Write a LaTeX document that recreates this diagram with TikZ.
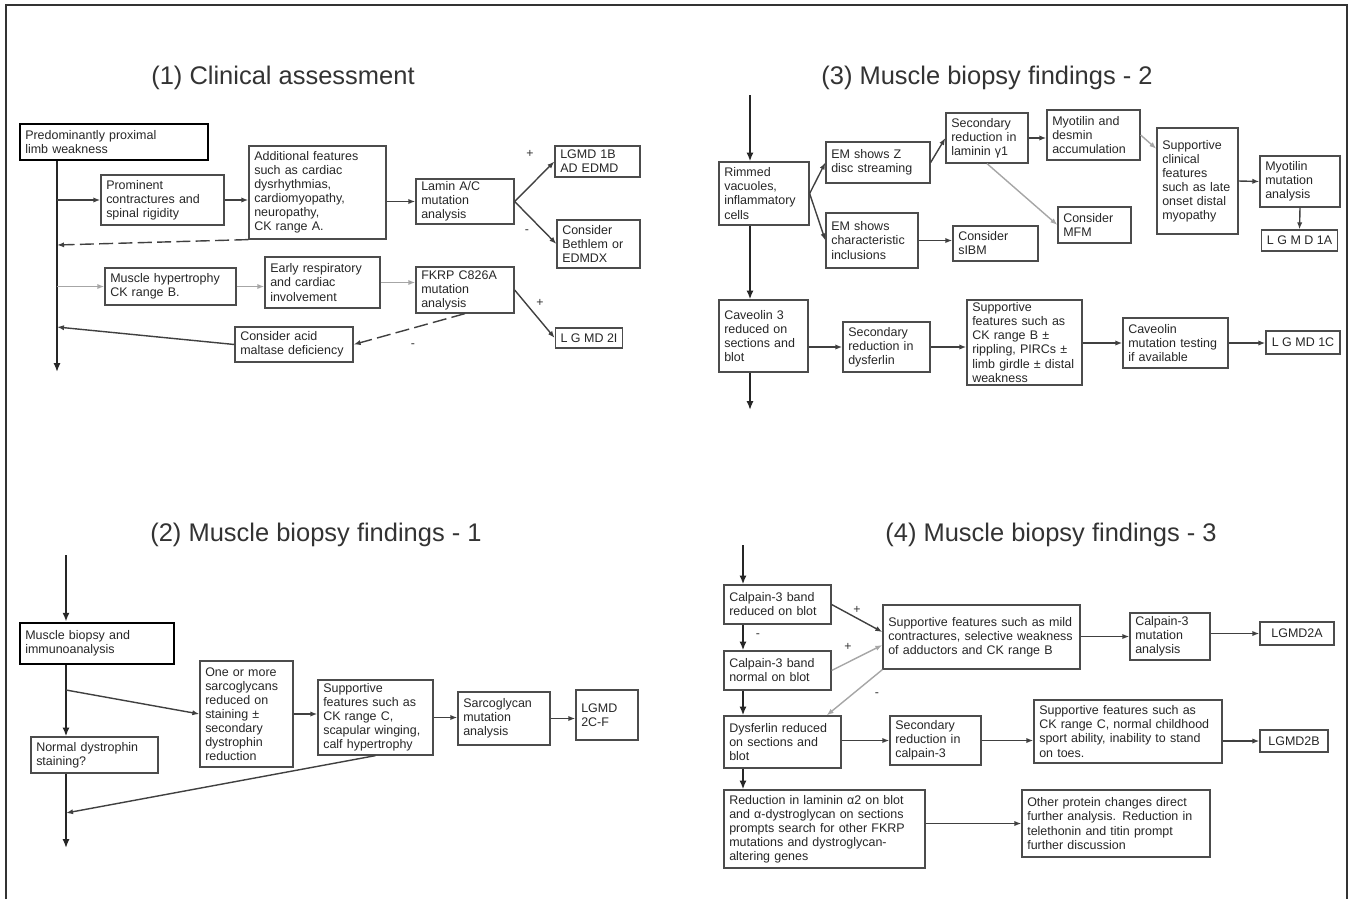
\documentclass[tikz,border=0pt]{standalone}
\usepackage{fontspec}
\setmainfont{Liberation Sans}
\usetikzlibrary{arrows.meta, calc}

\begin{document}
\begin{tikzpicture}[x=0.02cm, y=-0.02cm,
        box/.style={draw=black!70, line width=0.7pt, rectangle, align=left, inner xsep=3pt, inner ysep=1pt, text=black!85, font=\fontsize{7.1}{8}\selectfont},
        thickbox/.style={box, line width=1.6pt, draw=black},
        ttl/.style={text=black!80, font=\fontsize{14.5}{17}\selectfont},
        sgn/.style={text=black!80, font=\fontsize{7}{8}\selectfont, inner sep=0pt},
        trunk/.style={-{Latex[length=5pt,width=4pt]}, line width=1.6pt, draw=black!85},
        link/.style={-{Latex[length=4pt,width=3pt]}, line width=0.8pt, draw=black!75},
        glink/.style={link, draw=black!35},
        dlink/.style={link, dash pattern=on 8pt off 3pt}
    ]
    \useasboundingbox (0,0) rectangle (1351,899);
    \draw[black!80, line width=0.8pt] (6,899) -- (6,5) -- (1347,5) -- (1347,899);

    % (1) clinical assessment
    \node[ttl] (ttl1) at (283,78) {(1) Clinical assessment};
    \node[thickbox, text width=3.55cm, minimum height=0.72cm] (weak) at (114,142) {Predominantly proximal\\limb weakness};
    \node[box, text width=2.25cm, minimum height=1.0cm] (cont) at (162.5,200) {Prominent\\contractures and\\spinal rigidity};
    \node[box, text width=2.53cm, minimum height=1.86cm] (addf) at (317.5,192.5) {Additional features\\such as cardiac\\dysrhythmias,\\cardiomyopathy,\\neuropathy,\\CK range A.};
    \node[box, text width=1.75cm, minimum height=0.9cm] (lamin) at (465,201.5) {Lamin A/C\\mutation\\analysis};
    \node[box, text width=1.49cm, minimum height=0.62cm] (lgmdb) at (597.5,161.5) {LGMD 1B\\AD EDMD};
    \node[box, text width=1.45cm, minimum height=0.96cm] (beth) at (598.5,244) {Consider\\Bethlem or\\EDMDX};
    \node[box, text width=2.41cm, minimum height=0.74cm] (hyp) at (170.5,286.5) {Muscle hypertrophy\\CK range B.};
    \node[box, text width=2.09cm, minimum height=1.02cm] (resp) at (322.5,282.5) {Early respiratory\\and cardiac\\involvement};
    \node[box, text width=1.75cm, minimum height=0.92cm] (fkrp) at (465,290) {FKRP C826A\\mutation\\analysis};
    \node[box, minimum width=1.32cm, minimum height=0.4cm] (lgmdi) at (589,338) {L G MD 2I};
    \node[box, text width=2.15cm, minimum height=0.7cm] (acid) at (294,344.5) {Consider acid\\maltase deficiency};
    \coordinate (t1end) at (57,372);
    \coordinate (j1) at (57,245);
    \coordinate (j2) at (57,327);
    \node[sgn] (s1) at (530,154) {+};
    \node[sgn] (s2) at (527,232) {-};
    \node[sgn] (s3) at (540,303) {+};
    \node[sgn] (s4) at (413,346) {-};

    \draw[trunk] (weak.south -| t1end) -- (t1end);
    \draw[link] (t1end |- cont.west) -- (cont.west);
    \draw[link] (cont.east) -- (cont.east -| addf.west);
    \draw[link] (addf.east |- lamin.west) -- (lamin.west);
    \draw[link] (lamin.east) -- (lgmdb.west);
    \draw[link] (lamin.east) -- (beth.west);
    \draw[dlink] (addf.south west) -- (j1);
    \draw[glink] (t1end |- hyp.west) -- (hyp.west);
    \draw[glink] (hyp.east) -- (hyp.east -| resp.west);
    \draw[glink] (resp.east) -- (resp.east -| fkrp.west);
    \draw[link] (fkrp.east) -- (lgmdi.west);
    \draw[dlink] (fkrp.south) -- (acid.east);
    \draw[link] (acid.west) -- (j2);

    % (3) muscle biopsy findings - 2
    \node[ttl] (ttl3) at (987,78) {(3) Muscle biopsy findings - 2};
    \node[box, text width=1.59cm, minimum height=1.26cm] (rim) at (764,193.5) {Rimmed\\vacuoles,\\inflammatory\\cells};
    \node[box, text width=1.87cm, minimum height=0.82cm] (zdisc) at (878,162.5) {EM shows Z\\disc streaming};
    \node[box, text width=1.63cm, minimum height=1.1cm] (incl) at (872,240.5) {EM shows\\characteristic\\inclusions};
    \node[box, text width=1.49cm, minimum height=0.7cm] (sibm) at (995.5,243.5) {Consider\\sIBM};
    \node[box, text width=1.43cm, minimum height=1.0cm] (lamg) at (987,138) {Secondary\\reduction in\\laminin γ1};
    \node[box, text width=1.65cm, minimum height=1.0cm] (myod) at (1093.5,135) {Myotilin and\\desmin\\accumulation};
    \node[box, text width=1.25cm, minimum height=0.72cm] (mfm) at (1094.5,225) {Consider\\MFM};
    \node[box, text width=1.41cm, minimum height=2.12cm] (late) at (1197.5,181) {Supportive\\clinical\\features\\such as late\\onset distal\\myopathy};
    \node[box, text width=1.39cm, minimum height=1.02cm] (myot) at (1300,181.5) {Myotilin\\mutation\\analysis};
    \node[box, minimum width=1.46cm, minimum height=0.42cm] (l1a) at (1299.5,240.5) {L G M D 1A};
    \node[box, text width=1.57cm, minimum height=1.44cm] (cav) at (763.5,336) {Caveolin 3\\reduced on\\sections and\\blot};
    \node[box, text width=1.53cm, minimum height=1.0cm] (dysf) at (886.5,347) {Secondary\\reduction in\\dysferlin};
    \node[box, text width=2.09cm, minimum height=1.7cm] (ripp) at (1024.5,342.5) {Supportive\\features such as\\CK range B ±\\rippling, PIRCs ±\\limb girdle ± distal\\weakness};
    \node[box, text width=1.89cm, minimum height=1.0cm] (cavm) at (1175.5,343) {Caveolin\\mutation testing\\if available};
    \node[box, minimum width=1.48cm, minimum height=0.46cm] (l1c) at (1303,342.5) {L G MD 1C};
    \coordinate (t3a) at (750,95);
    \coordinate (t3b) at (750,410);

    \draw[trunk] (t3a) -- (t3a |- rim.north);
    \draw[trunk] (t3a |- rim.south) -- (t3a |- cav.north);
    \draw[trunk] (t3a |- cav.south) -- (t3b);
    \draw[link] (rim.east) -- (zdisc.west);
    \draw[link] (rim.east) -- (incl.west);
    \draw[link] (zdisc.east) -- (lamg.west);
    \draw[link] (lamg.east) -- (lamg.east -| myod.west);
    \draw[glink] (lamg.south) -- (mfm.west);
    \draw[glink] (myod.east) -- ($(late.north west)!0.2!(late.south west)$);
    \draw[link] (incl.east) -- (incl.east -| sibm.west);
    \draw[link] (late.east) -- (myot.west);
    \draw[link] (myot.south) -- (l1a.north);
    \draw[link] (cav.east |- dysf.west) -- (dysf.west);
    \draw[link] (dysf.east) -- (dysf.east -| ripp.west);
    \draw[link] (ripp.east |- cavm.west) -- (cavm.west);
    \draw[link] (cavm.east) -- (cavm.east -| l1c.west);

    % (2) muscle biopsy findings - 1
    \node[ttl] (ttl2) at (316,535) {(2) Muscle biopsy findings - 1};
    \node[thickbox, text width=2.87cm, minimum height=0.82cm] (mb) at (97,643.5) {Muscle biopsy and\\immunoanalysis};
    \node[box, text width=2.33cm, minimum height=0.72cm] (nd) at (94.5,755) {Normal dystrophin\\staining?};
    \node[box, text width=1.65cm, minimum height=2.12cm] (sg) at (246.5,714) {One or more\\sarcoglycans\\reduced on\\staining ±\\secondary\\dystrophin\\reduction};
    \node[box, text width=2.09cm, minimum height=1.5cm] (sf) at (375.5,717.5) {Supportive\\features such as\\CK range C,\\scapular winging,\\calf hypertrophy};
    \node[box, text width=1.63cm, minimum height=1.06cm] (sm) at (504,718.5) {Sarcoglycan\\mutation\\analysis};
    \node[box, text width=1.03cm, minimum height=1.0cm] (l2c) at (607,715) {LGMD\\2C-F};
    \coordinate (t2a) at (66,555);
    \coordinate (t2b) at (66,848);
    \coordinate (j3) at (66,690);
    \coordinate (j4) at (66,813);

    \draw[trunk] (t2a) -- (t2a |- mb.north);
    \draw[trunk] (t2a |- mb.south) -- (t2a |- nd.north);
    \draw[trunk] (t2a |- nd.south) -- (t2b);
    \draw[link] (j3) -- (sg.west);
    \draw[link] (sg.east) -- (sg.east -| sf.west);
    \draw[link] (sf.east) -- (sf.east -| sm.west);
    \draw[link] (sm.east) -- (sm.east -| l2c.west);
    \draw[link] (sf.south) -- (j4);

    % (4) muscle biopsy findings - 3
    \node[ttl] (ttl4) at (1051,535) {(4) Muscle biopsy findings - 3};
    \node[box, text width=1.93cm, minimum height=0.78cm] (ca) at (777.5,604.5) {Calpain-3 band\\reduced on blot};
    \node[box, text width=1.93cm, minimum height=0.78cm] (cb) at (777.5,670.5) {Calpain-3 band\\normal on blot};
    \node[box, text width=2.13cm, minimum height=1.04cm] (dy) at (782.5,742) {Dysferlin reduced\\on sections and\\blot};
    \node[box, text width=3.81cm, minimum height=1.56cm] (lr) at (824.5,829) {Reduction in laminin α2 on blot\\and α-dystroglycan on sections\\prompts search for other FKRP\\mutations and dystroglycan-\\altering genes};
    \node[box, text width=3.73cm, minimum height=1.28cm] (su) at (981.5,637) {Supportive features such as mild\\contractures, selective weakness\\of adductors and CK range B};
    \node[box, text width=1.39cm, minimum height=0.94cm] (cm) at (1170,636.5) {Calpain-3\\mutation\\analysis};
    \node[box, minimum width=1.48cm, minimum height=0.46cm] (l2a) at (1297,633.5) {LGMD2A};
    \node[box, text width=1.61cm, minimum height=0.98cm] (sd) at (935.5,740.5) {Secondary\\reduction in\\calpain-3};
    \node[box, text width=3.55cm, minimum height=1.26cm] (ss) at (1128,731.5) {Supportive features such as\\CK range C, normal childhood\\sport ability, inability to stand\\on toes.};
    \node[box, minimum width=1.36cm, minimum height=0.44cm] (l2b) at (1294,741) {LGMD2B};
    \node[box, text width=3.55cm, minimum height=1.34cm] (op) at (1116,823.5) {Other protein changes direct\\further analysis. Reduction in\\telethonin and titin prompt\\further discussion};
    \coordinate (t4a) at (743,545);
    \node[sgn] (s5) at (857,610) {+};
    \node[sgn] (s6) at (848,647) {+};
    \node[sgn] (s7) at (758,636) {-};
    \node[sgn] (s8) at (877,695) {-};

    \draw[trunk] (t4a) -- (t4a |- ca.north);
    \draw[trunk] (t4a |- ca.south) -- (t4a |- cb.north);
    \draw[trunk] (t4a |- cb.south) -- (t4a |- dy.north);
    \draw[trunk] (t4a |- dy.south) -- (t4a |- lr.north);
    \draw[link] (ca.east) -- ([yshift=0.1cm]su.west);
    \draw[glink] (cb.east) -- ([yshift=-0.16cm]su.west);
    \draw[glink] (su.south west) -- ([xshift=-0.3cm]dy.north east);
    \draw[link] (su.east |- cm.west) -- (cm.west);
    \draw[link] (cm.east |- l2a.west) -- (l2a.west);
    \draw[link] (dy.east |- sd.west) -- (sd.west);
    \draw[link] (sd.east) -- (sd.east -| ss.west);
    \draw[link] (ss.east |- l2b.west) -- (l2b.west);
    \draw[link] (lr.east |- op.west) -- (op.west);
\end{tikzpicture}
\end{document}
